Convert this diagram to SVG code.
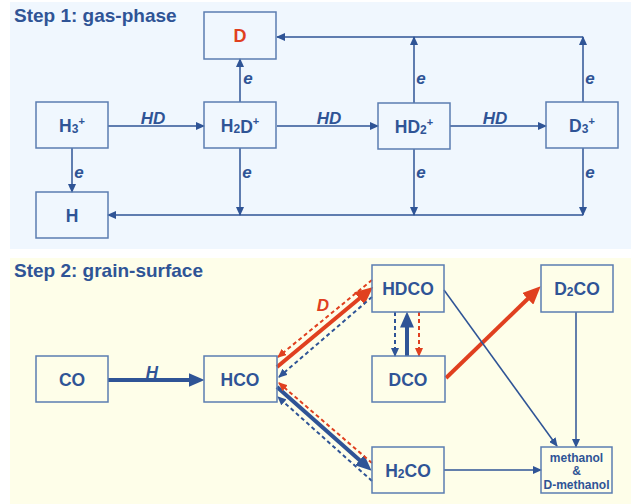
<svg xmlns="http://www.w3.org/2000/svg" width="638" height="504" viewBox="0 0 638 504">
<style>
.box{fill:none;stroke:#5b7db1;stroke-width:1.5}
.t{font-family:"Liberation Sans",Arial,sans-serif;font-weight:bold;fill:#2f5496;text-anchor:middle}
.lbl{font-size:17.5px}
.ti{font-size:19px;text-anchor:start}
.it{font-style:italic;font-size:17px}
.th{fill:none;stroke:#2f5496;stroke-width:1.5}
.tk{fill:none;stroke:#2f5496;stroke-width:4}
.tkr{fill:none;stroke:#e0401f;stroke-width:4}
.db{fill:none;stroke:#2f5496;stroke-width:2;stroke-dasharray:4 3}
.dr{fill:none;stroke:#e0401f;stroke-width:2;stroke-dasharray:4 3}
</style>
<defs>
<marker id="ah" markerUnits="userSpaceOnUse" markerWidth="9" markerHeight="8" refX="8" refY="4" orient="auto"><path d="M0,0 L9,4 L0,8 z" fill="#2f5496"/></marker>
<marker id="ahr" markerUnits="userSpaceOnUse" markerWidth="9" markerHeight="8" refX="8" refY="4" orient="auto"><path d="M0,0 L9,4 L0,8 z" fill="#e0401f"/></marker>
<marker id="bb" markerUnits="userSpaceOnUse" markerWidth="16" markerHeight="14" refX="0.5" refY="7" orient="auto"><path d="M0,0 L16,7 L0,14 z" fill="#2f5496"/></marker>
<marker id="br" markerUnits="userSpaceOnUse" markerWidth="18" markerHeight="16" refX="0.5" refY="8" orient="auto"><path d="M0,0 L18,8 L0,16 z" fill="#e0401f"/></marker>
</defs>
<rect x="10" y="2" width="621" height="247" fill="#f0f7fe"/>
<rect x="10" y="258" width="621" height="246" fill="#fefee9"/>
<text class="t ti" x="14" y="22">Step 1: gas-phase</text>
<text class="t ti" x="14" y="277">Step 2: grain-surface</text>

<g id="connectors">
<line class="th" x1="108" y1="126" x2="204" y2="126" marker-end="url(#ah)"/>
<line class="th" x1="277" y1="126" x2="378" y2="126" marker-end="url(#ah)"/>
<line class="th" x1="450" y1="126" x2="546" y2="126" marker-end="url(#ah)"/>
<line class="th" x1="240" y1="102" x2="240" y2="59" marker-end="url(#ah)"/>
<line class="th" x1="72" y1="148" x2="72" y2="192" marker-end="url(#ah)"/>
<line class="th" x1="240" y1="148" x2="240" y2="215" marker-end="url(#ah)"/>
<line class="th" x1="414" y1="149" x2="414" y2="215" marker-end="url(#ah)"/>
<line class="th" x1="583" y1="148" x2="583" y2="215" marker-end="url(#ah)"/>
<line class="th" x1="583" y1="215" x2="108" y2="215" marker-end="url(#ah)"/>
<line class="th" x1="414" y1="103" x2="414" y2="37" marker-end="url(#ah)"/>
<line class="th" x1="583" y1="102" x2="583" y2="37" marker-end="url(#ah)"/>
<line class="th" x1="583" y1="37" x2="277" y2="37" marker-end="url(#ah)"/>
<text class="t it" x="153" y="124">HD</text>
<text class="t it" x="329" y="124">HD</text>
<text class="t it" x="495" y="124">HD</text>
<text class="t it" x="248" y="84">e</text>
<text class="t it" x="421" y="84">e</text>
<text class="t it" x="590" y="84">e</text>
<text class="t it" x="79" y="178">e</text>
<text class="t it" x="247" y="178">e</text>
<text class="t it" x="421" y="178">e</text>
<text class="t it" x="590" y="178">e</text>

<line class="tk" x1="108" y1="380" x2="189" y2="380" marker-end="url(#bb)"/>
<text class="t it" x="152" y="378">H</text>
<line class="tkr" x1="277" y1="367" x2="359.7" y2="298.2" marker-end="url(#br)"/>
<text class="t it" x="323" y="311" style="fill:#e0401f">D</text>
<line class="dr" x1="372" y1="280" x2="278" y2="357" marker-end="url(#ahr)"/>
<line class="db" x1="372" y1="297" x2="279" y2="377" marker-end="url(#ah)"/>
<line class="tk" x1="277" y1="387" x2="360" y2="460.4" marker-end="url(#bb)"/>
<line class="dr" x1="372" y1="463" x2="279" y2="383" marker-end="url(#ahr)"/>
<line class="db" x1="372" y1="481" x2="278" y2="397" marker-end="url(#ah)"/>
<line class="db" x1="395" y1="312" x2="395" y2="356" marker-end="url(#ah)"/>
<line class="dr" x1="419" y1="312" x2="419" y2="356" marker-end="url(#ahr)"/>
<line class="tk" x1="407" y1="356" x2="407" y2="327" marker-end="url(#bb)"/>
<line class="tkr" x1="446" y1="378" x2="528.1" y2="298.5" marker-end="url(#br)"/>
<line class="th" x1="444" y1="290" x2="557" y2="446" marker-end="url(#ah)"/>
<line class="th" x1="576" y1="312" x2="576" y2="447" marker-end="url(#ah)"/>
<line class="th" x1="444" y1="470" x2="541" y2="470" marker-end="url(#ah)"/>
</g>

<g id="node-D"><rect class="box" x="204" y="12" width="72" height="47"/><text class="t" font-size="18" x="240" y="42" style="fill:#e0401f">D</text></g>
<g id="node-H3"><rect class="box" x="36" y="102" width="72" height="46"/><text class="t lbl" x="72" y="132">H<tspan font-size="12" dy="1">3</tspan><tspan font-size="11" dy="-8">+</tspan></text></g>
<g id="node-H2D"><rect class="box" x="204" y="102" width="72" height="46"/><text class="t lbl" x="240" y="132">H<tspan font-size="12" dy="1">2</tspan>D<tspan font-size="11" dy="-8">+</tspan></text></g>
<g id="node-HD2"><rect class="box" x="378" y="103" width="72" height="46"/><text class="t lbl" x="414" y="133">HD<tspan font-size="12" dy="1">2</tspan><tspan font-size="11" dy="-8">+</tspan></text></g>
<g id="node-D3"><rect class="box" x="546" y="102" width="72" height="46"/><text class="t lbl" x="582" y="132">D<tspan font-size="12" dy="1">3</tspan><tspan font-size="11" dy="-8">+</tspan></text></g>
<g id="node-H"><rect class="box" x="36" y="192" width="72" height="46"/><text class="t lbl" x="72" y="222">H</text></g>

<g id="node-CO"><rect class="box" x="36" y="356" width="72" height="46"/><text class="t lbl" x="72" y="386">CO</text></g>
<g id="node-HCO"><rect class="box" x="204" y="356" width="73" height="46"/><text class="t lbl" x="240" y="386">HCO</text></g>
<g id="node-HDCO"><rect class="box" x="372" y="265" width="72" height="47"/><text class="t lbl" x="408" y="295">HDCO</text></g>
<g id="node-DCO"><rect class="box" x="372" y="356" width="73" height="46"/><text class="t lbl" x="408" y="386">DCO</text></g>
<g id="node-H2CO"><rect class="box" x="372" y="447" width="72" height="46"/><text class="t lbl" x="408" y="477">H<tspan font-size="12" dy="1">2</tspan><tspan dy="-1">CO</tspan></text></g>
<g id="node-D2CO"><rect class="box" x="541" y="265" width="72" height="47"/><text class="t lbl" x="577" y="295">D<tspan font-size="12" dy="1">2</tspan><tspan dy="-1">CO</tspan></text></g>
<g id="node-methanol"><rect class="box" x="541" y="447" width="71" height="46"/>
<text class="t" font-size="12" x="576.5" y="462">methanol</text>
<text class="t" font-size="12" x="576.5" y="475.4">&amp;</text>
<text class="t" font-size="12" x="576.5" y="488.8">D-methanol</text></g>
</svg>
